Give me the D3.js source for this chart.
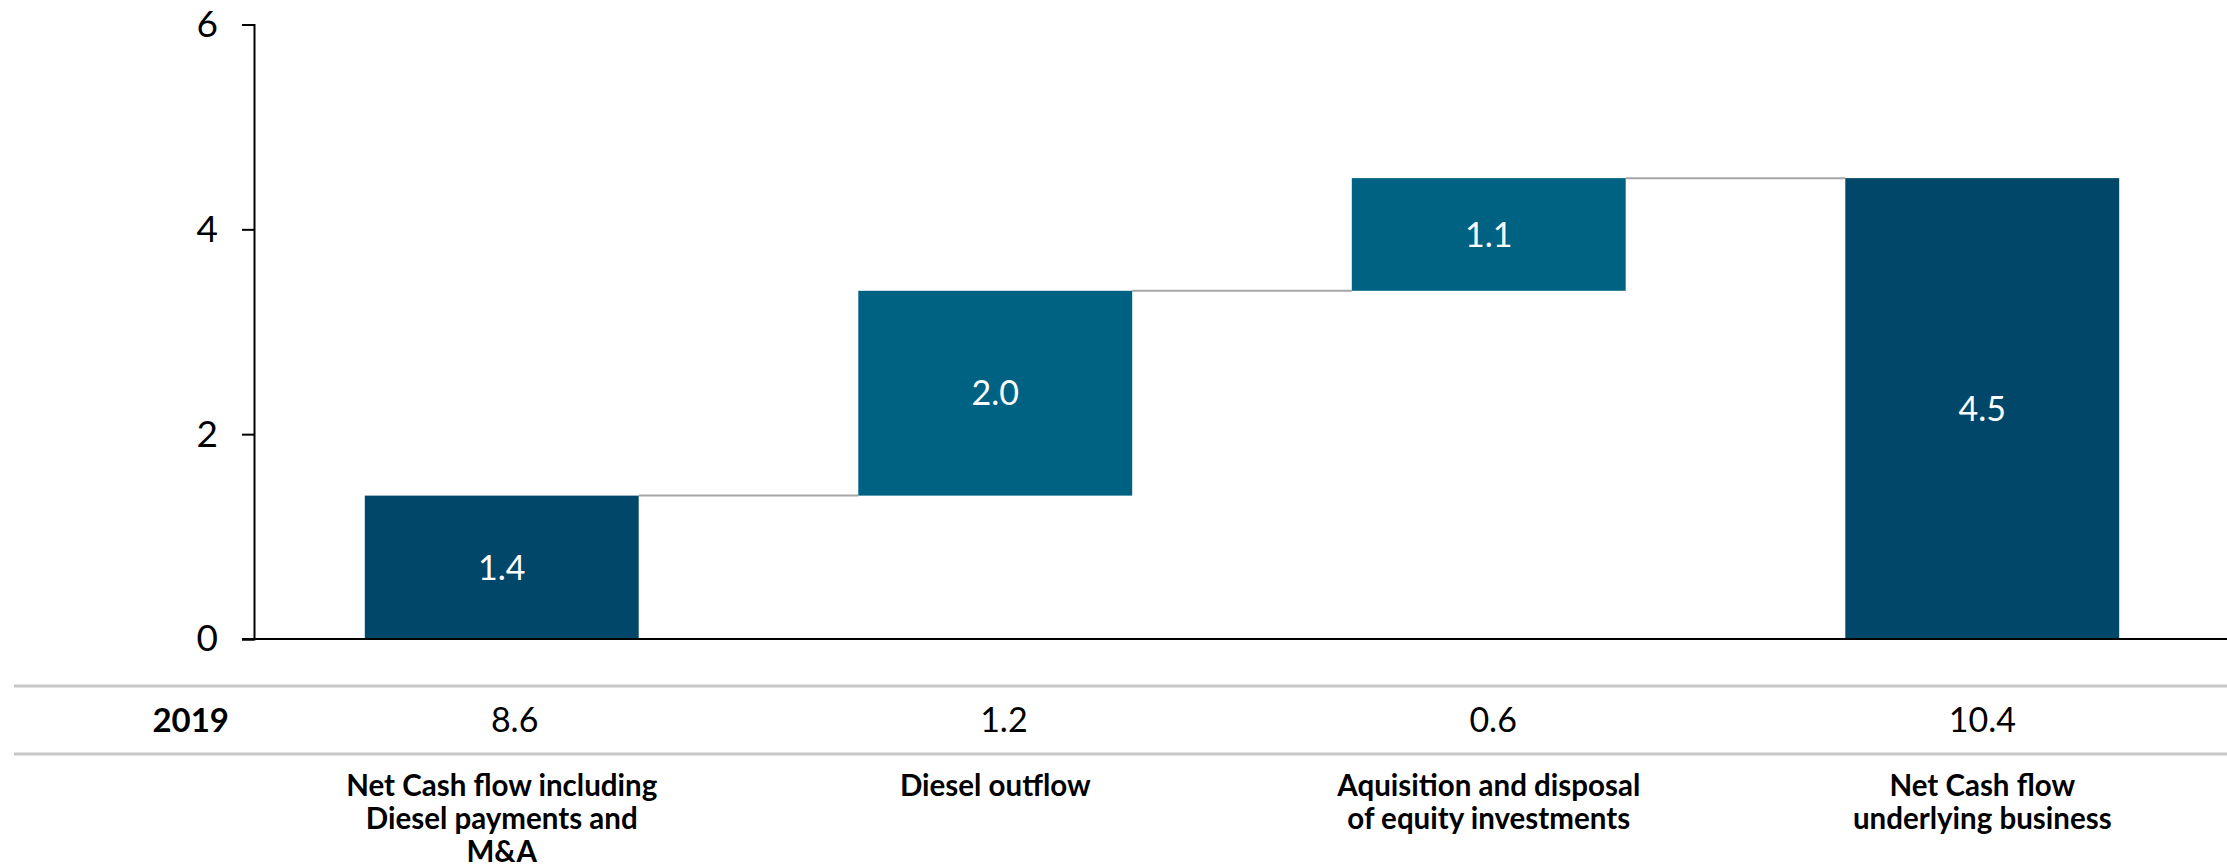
<!DOCTYPE html>
<html>
<head>
<meta charset="utf-8">
<script src="https://cdn.jsdelivr.net/npm/d3@7"></script>
<style>
  html, body { margin: 0; padding: 0; background: #fff; }
  svg { display: block; }
  text { font-family: Lato, "Open Sans", sans-serif; }
</style>
</head>
<body>
<svg id="chart" width="2227" height="868"></svg>
<script>
// ---- data ----
const categories = [
  ["Net Cash flow including", "Diesel payments and", "M&A"],
  ["Diesel outflow"],
  ["Aquisition and disposal", "of equity investments"],
  ["Net Cash flow", "underlying business"]
];
const barValues = [1.4, 2.0, 1.1, 4.5];
const barTypes = ["total", "delta", "delta", "total"];
const tableRowLabel = "2019";
const tableValues = [8.6, 1.2, 0.6, 10.4];
const yTicks = [0, 2, 4, 6];

// ---- layout ----
const W = 2227, H = 868;
const svg = d3.select("#chart");
const ids = d3.range(categories.length);

const x = d3.scaleBand().domain(ids).range([255, 2229]).paddingInner(0.445).paddingOuter(0.2225);
const xTable = d3.scaleBand().domain(ids).range([270, 2227]);
const y = d3.scaleLinear().domain([0, 6]).range([639, 24.5]);

// waterfall bases
let run = 0;
const bars = barValues.map((v, i) => {
  let base;
  if (barTypes[i] === "total") { base = 0; run = v; }
  else { base = run; run += v; }
  return { i, v, base, top: base + v, type: barTypes[i] };
});

const colors = { total: "#00476a", delta: "#006283" };

// connectors
const conn = svg.append("g");
for (let k = 0; k < bars.length - 1; k++) {
  const level = bars[k].top;
  conn.append("line")
    .attr("x1", x(k) + x.bandwidth())
    .attr("x2", x(k + 1))
    .attr("y1", y(level)).attr("y2", y(level))
    .attr("stroke", "#a6a6a6").attr("stroke-width", 2);
}

// bars
svg.append("g").selectAll("rect").data(bars).join("rect")
  .attr("x", d => x(d.i))
  .attr("width", x.bandwidth())
  .attr("y", d => y(d.top))
  .attr("height", d => y(d.base) - y(d.top))
  .attr("fill", d => colors[d.type]);

// bar value labels
svg.append("g").selectAll("text").data(bars).join("text")
  .attr("x", d => x(d.i) + x.bandwidth() / 2)
  .attr("y", d => (y(d.base) + y(d.top)) / 2)
  .attr("dy", "0.36em")
  .attr("text-anchor", "middle")
  .attr("fill", "#fff")
  .attr("font-size", 34)
  .text(d => d.v.toFixed(1));

// y axis
const yAxis = svg.append("g").attr("transform", "translate(254,0)")
  .call(d3.axisLeft(y).tickValues(yTicks).tickSize(12).tickPadding(24).tickFormat(d3.format("d")));
yAxis.select(".domain").attr("stroke", "#000").attr("stroke-width", 2);
yAxis.selectAll(".tick line").attr("stroke", "#000").attr("stroke-width", 2);
yAxis.selectAll(".tick text").attr("font-size", 37).attr("fill", "#000")
  .attr("font-family", "Lato, sans-serif");

// x baseline
svg.append("line")
  .attr("x1", 242).attr("x2", W)
  .attr("y1", y(0)).attr("y2", y(0))
  .attr("stroke", "#000").attr("stroke-width", 2);

// table lines
[686, 754].forEach(ly => {
  svg.append("line").attr("x1", 14).attr("x2", W)
    .attr("y1", ly).attr("y2", ly)
    .attr("stroke", "#c8c8c8").attr("stroke-width", 3);
});

// table row label
svg.append("text")
  .attr("x", 229).attr("y", 720).attr("dy", "0.36em")
  .attr("text-anchor", "end")
  .attr("font-size", 33).attr("font-weight", "bold").attr("fill", "#000")
  .text(tableRowLabel);

// table values
svg.append("g").selectAll("text").data(tableValues).join("text")
  .attr("x", (d, i) => xTable(i) + xTable.bandwidth() / 2)
  .attr("y", 720).attr("dy", "0.36em")
  .attr("text-anchor", "middle")
  .attr("font-size", 34).attr("fill", "#000")
  .text(d => d.toFixed(1));

// category labels
const cat = svg.append("g").selectAll("text").data(categories).join("text")
  .attr("x", (d, i) => x(i) + x.bandwidth() / 2)
  .attr("y", 796)
  .attr("text-anchor", "middle")
  .attr("font-size", 29.5).attr("font-weight", "bold").attr("fill", "#000");
cat.each(function(lines, i) {
  const t = d3.select(this);
  lines.forEach((ln, j) => {
    t.append("tspan")
      .attr("x", x(i) + x.bandwidth() / 2)
      .attr("y", 796 + j * 33)
      .text(ln);
  });
});
</script>
</body>
</html>
